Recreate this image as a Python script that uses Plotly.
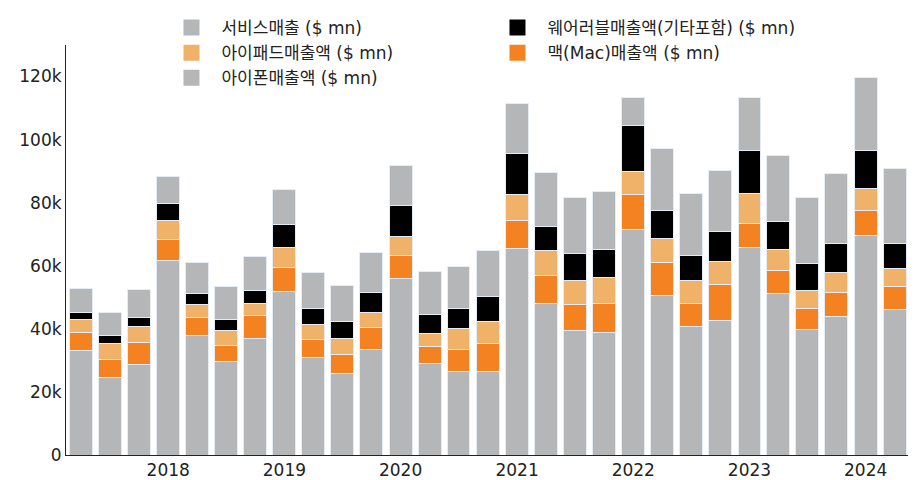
import plotly.graph_objects as go

quarters = ["2017-04-01", "2017-07-01", "2017-10-01", "2018-01-01", "2018-04-01", "2018-07-01",
            "2018-10-01", "2019-01-01", "2019-04-01", "2019-07-01", "2019-10-01", "2020-01-01",
            "2020-04-01", "2020-07-01", "2020-10-01", "2021-01-01", "2021-04-01", "2021-07-01",
            "2021-10-01", "2022-01-01", "2022-04-01", "2022-07-01", "2022-10-01", "2023-01-01",
            "2023-04-01", "2023-07-01", "2023-10-01", "2024-01-01", "2024-04-01"]

iphone = [33200, 24700, 28800, 61700, 37800, 29700, 36900, 52000, 31000, 26000, 33400, 56000,
          29000, 26400, 26400, 65600, 47900, 39600, 38900, 71600, 50600, 40700, 42600, 65800,
          51300, 39700, 43800, 69700, 46000]
mac = [5600, 5700, 7000, 6600, 5800, 5100, 7400, 7400, 5600, 5800, 7000, 7200,
       5350, 7100, 9000, 8700, 9100, 8200, 9200, 10900, 10400, 7400, 11500, 7700,
       7200, 6800, 7600, 7800, 7500]
ipad = [4300, 5000, 4900, 6100, 4100, 4700, 3800, 6500, 4900, 5000, 4700, 6000,
        4300, 6600, 6800, 8400, 7800, 7400, 8300, 7300, 7600, 7200, 7200, 9400,
        6700, 5800, 6400, 7000, 5600]
wearables = [2200, 2400, 3000, 5300, 3400, 3400, 4100, 7100, 4900, 5500, 6500, 10000,
             6000, 6500, 7900, 13000, 7800, 8800, 8800, 14600, 8800, 8100, 9700, 13500,
             8800, 8300, 9300, 12000, 7900]
services = [7600, 7400, 8900, 8700, 10000, 10400, 10700, 11200, 11600, 11500, 12500, 12700,
            13600, 13200, 14600, 15800, 16900, 17500, 18300, 9100, 19800, 19600, 19200, 17100,
            20900, 21200, 22300, 23100, 23900]

series = [
    ("아이폰매출액 ($ mn)", iphone, "#b5b6b8"),
    ("맥(Mac)매출액 ($ mn)", mac, "#f58220"),
    ("아이패드매출액 ($ mn)", ipad, "#f0b169"),
    ("웨어러블매출액(기타포함) ($ mn)", wearables, "#000000"),
    ("서비스매출 ($ mn)", services, "#b5b6b8"),
]

FONT = "Verdana, DejaVu Sans, Noto Sans CJK KR, sans-serif"

fig = go.Figure()
for name, vals, color in series:
    fig.add_trace(go.Bar(
        x=quarters, y=vals, name=name, showlegend=False,
        marker=dict(color=color, line=dict(color="#e6ecf5", width=1)),
    ))
# legend-only entries with larger square swatches
for name, vals, color in series:
    fig.add_trace(go.Scatter(
        x=[None], y=[None], name=name, mode="markers",
        marker=dict(symbol="square", size=16, color=color),
    ))

fig.update_layout(
    barmode="stack",
    bargap=0.2,
    width=924, height=480,
    margin=dict(l=66, r=16, t=45, b=25, autoexpand=False),
    paper_bgcolor="white",
    plot_bgcolor="white",
    font=dict(family=FONT, size=17, color="#222222"),
    legend=dict(
        orientation="h", traceorder="reversed", itemsizing="trace",
        itemwidth=50,
        entrywidth=261, entrywidthmode="pixels",
        x=0.1134, xanchor="left", y=1.0854, yanchor="top",
        font=dict(family=FONT, size=17, color="#222222"),
        bgcolor="rgba(0,0,0,0)",
    ),
    xaxis=dict(
        type="date", automargin=False,
        range=["2017-02-14", "2024-05-13"],
        showgrid=False, zeroline=False,
        showline=True, linecolor="#222222", linewidth=1,
        ticks="", dtick="M12", tick0="2018-01-01", tickformat="%Y",
    ),
    yaxis=dict(
        automargin=False,
        range=[0, 130000],
        showgrid=False, zeroline=False,
        showline=True, linecolor="#222222", linewidth=1,
        ticks="", dtick=20000, tick0=0,
    ),
)

fig.write_html("out.html", config={"displayModeBar": False},
               post_script="document.body.style.margin='0';")
